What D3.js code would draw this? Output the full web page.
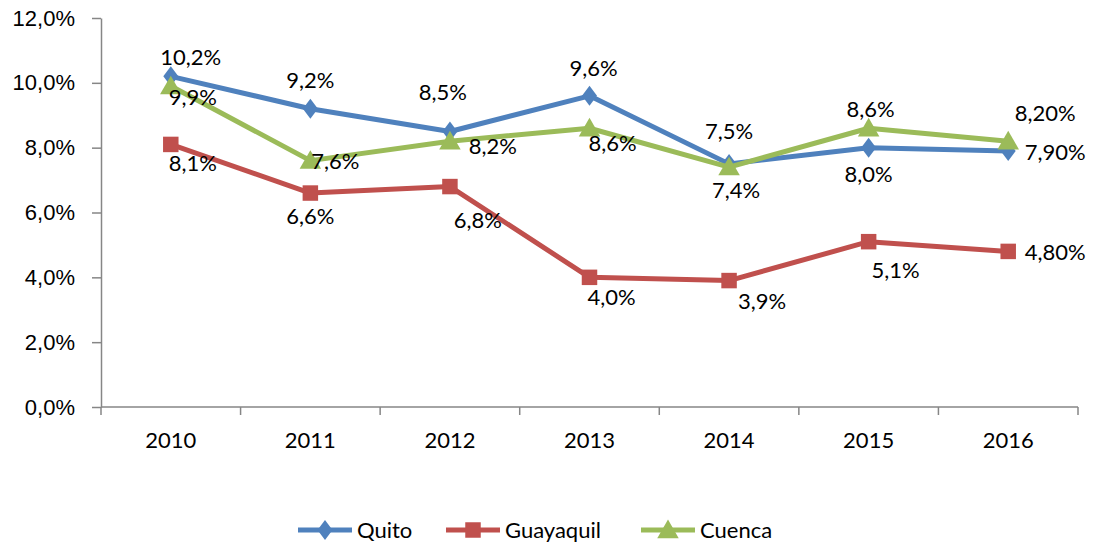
<!DOCTYPE html>
<html>
<head>
<meta http-equiv="Content-Type" content="text/html; charset=UTF-8">
<style>
body { margin: 0; background: #fff; }
svg { font-family: Lato, "Open Sans", sans-serif; }
.axis path, .axis line { stroke: #868686; stroke-width: 1.5px; }
.axis text { font-size: 22px; fill: #000; }
.line { fill: none; stroke-width: 5px; stroke-linejoin: round; }
.lbl { font-size: 22px; fill: #000; }
</style>
</head>
<body>
<svg width="1106" height="546"></svg>
<script src="https://cdn.jsdelivr.net/npm/d3@7"></script>
<script>

var years = ["2010", "2011", "2012", "2013", "2014", "2015", "2016"];
var yTicks = [0, 2, 4, 6, 8, 10, 12];

var quito     = [10.2, 9.2, 8.5, 9.6, 7.5, 8.0, 7.9];
var guayaquil = [8.1, 6.6, 6.8, 4.0, 3.9, 5.1, 4.8];
var cuenca    = [9.9, 7.6, 8.2, 8.6, 7.4, 8.6, 8.2];

var quitoLabels     = ["10,2%", "9,2%", "8,5%", "9,6%", "7,5%", "8,0%", "7,90%"];
var guayaquilLabels = ["8,1%", "6,6%", "6,8%", "4,0%", "3,9%", "5,1%", "4,80%"];
var cuencaLabels    = ["9,9%", "7,6%", "8,2%", "8,6%", "7,4%", "8,6%", "8,20%"];

// where each data label sits relative to its point (Excel placed them by hand)
var quitoOff     = [[20,-19],[0,-28],[-7,-39],[4,-28],[0,-33],[0,27],[47,1]];
var guayaquilOff = [[22,19],[0,23],[28,34],[22,20],[33,21],[27,29],[47,1]];
var cuencaOff    = [[22,11],[25,1],[43,5],[23,15],[7,23],[2,-19],[37,-28]];

// a slightly wider diamond than d3's default, closer to Excel's marker
var wideDiamond = {
  draw: function(context, size) {
    var h = Math.sqrt(size / 1.5), w = h * 0.75;
    context.moveTo(0, -h);
    context.lineTo(w, 0);
    context.lineTo(0, h);
    context.lineTo(-w, 0);
    context.closePath();
  }
};

var series = [
  { name: "Quito", values: quito, labels: quitoLabels, off: quitoOff, color: "#4F81BD", shape: wideDiamond, size: 150 },
  { name: "Guayaquil", values: guayaquil, labels: guayaquilLabels, off: guayaquilOff, color: "#C0504D", shape: d3.symbolSquare, size: 240 },
  { name: "Cuenca", values: cuenca, labels: cuencaLabels, off: cuencaOff, color: "#9BBB59", shape: d3.symbolTriangle, size: 200 }
];

var svg = d3.select("svg");

var x = d3.scaleBand().domain(years).range([101, 1078]);
var y = d3.scaleLinear().domain([0, 12]).range([407, 18]);

var fmt = function(d) { return d.toFixed(1).replace(".", ",") + "%"; };

// y axis
svg.append("g")
    .attr("class", "axis")
    .attr("transform", "translate(101,0)")
    .call(d3.axisLeft(y).tickValues(yTicks).tickFormat(fmt).tickSize(9).tickSizeOuter(0).tickPadding(17));

// x axis with ticks at band edges
var xAxis = svg.append("g")
    .attr("class", "axis")
    .attr("transform", "translate(0,407)");
xAxis.append("line").attr("x1", 101).attr("x2", 1078).attr("y1", 0).attr("y2", 0);
xAxis.selectAll(".tk")
    .data(years.concat(["end"]))
  .enter().append("line")
    .attr("x1", function(d, i) { return 101 + i * x.step(); })
    .attr("x2", function(d, i) { return 101 + i * x.step(); })
    .attr("y1", 0).attr("y2", 8);
xAxis.selectAll(".yr")
    .data(years)
  .enter().append("text")
    .attr("x", function(d) { return x(d) + x.bandwidth() / 2; })
    .attr("y", 33)
    .attr("dy", "0.35em")
    .attr("text-anchor", "middle")
    .text(function(d) { return d; });

var line = d3.line()
    .x(function(d, i) { return x(years[i]) + x.bandwidth() / 2; })
    .y(function(d) { return y(d); });

series.forEach(function(s) {
  svg.append("path")
      .datum(s.values)
      .attr("class", "line")
      .attr("stroke", s.color)
      .attr("d", line);
  svg.selectAll(null)
      .data(s.values)
    .enter().append("path")
      .attr("d", d3.symbol().type(s.shape).size(s.size))
      .attr("fill", s.color)
      .attr("transform", function(d, i) {
        var dy = s.shape === d3.symbolTriangle ? 2 : 0;
        return "translate(" + (x(years[i]) + x.bandwidth() / 2) + "," + (y(d) + dy) + ")";
      });
});

series.forEach(function(s) {
  svg.selectAll(null)
      .data(s.values)
    .enter().append("text")
      .attr("class", "lbl")
      .attr("text-anchor", "middle")
      .attr("dy", "0.35em")
      .attr("x", function(d, i) { return x(years[i]) + x.bandwidth() / 2 + s.off[i][0]; })
      .attr("y", function(d, i) { return y(d) + s.off[i][1]; })
      .text(function(d, i) { return s.labels[i]; });
});

// legend
var legX = [298, 446, 641];
var leg = svg.selectAll(".leg")
    .data(series)
  .enter().append("g")
    .attr("transform", function(d, i) { return "translate(" + legX[i] + ",530)"; });
leg.append("line")
    .attr("x1", 0).attr("x2", 54)
    .attr("stroke", function(d) { return d.color; })
    .attr("stroke-width", 5);
leg.append("path")
    .attr("d", function(d) { return d3.symbol().type(d.shape).size(d.size)(); })
    .attr("transform", function(d) { return "translate(27," + (d.shape === d3.symbolTriangle ? 2 : 0) + ")"; })
    .attr("fill", function(d) { return d.color; });
leg.append("text")
    .attr("class", "lbl")
    .attr("x", 59)
    .attr("dy", "0.35em")
    .text(function(d) { return d.name; });

</script>
</body></html>
